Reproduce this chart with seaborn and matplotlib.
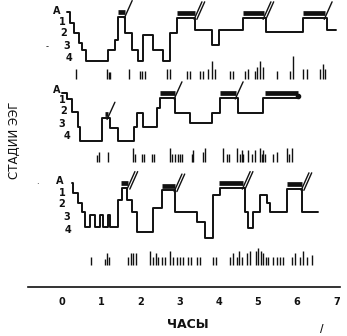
import numpy as np
import matplotlib
matplotlib.use("Agg")
import matplotlib.pyplot as plt
import seaborn as sns

# ---------------- data ----------------
hours = [0, 1, 2, 3, 4, 5, 6, 7]
stage_names = ["A", "1", "2", "3", "4"]

# night 1 hypnogram (time in hours, stage level)
n1_t = [0.13, 0.20, 0.31, 0.43, 0.51, 0.61, 1.17, 1.35, 1.43, 1.61, 1.79, 1.94, 2.07,
        2.32, 2.58, 2.76, 2.93, 3.39, 3.83, 4.01, 4.62, 5.20, 6.15, 6.76, 6.99]
n1_s = [0, 0.9, 1.7, 2.5, 3.1, 4, 3.1, 2.3, 0.4, 1.7, 3.1, 4, 1.9,
        3.1, 4, 1.7, 0.5, 1.5, 2.7, 1.5, 0.5, 1.6, 0.5, 1.5, 1.5]
n1_rem_start = [1.43, 2.93, 4.62, 6.15]
n1_rem_end = [1.61, 3.39, 5.15, 6.71]
n1_rem_slashes = [1, 2, 2, 1]
n1_mov_t = [0.36, 1.15, 1.19, 1.22, 1.71, 1.99, 2.05, 2.12, 2.68, 2.76, 3.19, 3.27, 3.52,
            3.60, 3.72, 3.83, 3.90, 4.29, 4.36, 4.67, 4.74, 4.92, 4.97, 5.05, 5.13, 5.48,
            5.82, 5.89, 6.15, 6.25, 6.58, 6.65, 6.71]
n1_mov_h = [0.8, 0.8, 0.6, 0.6, 0.8, 0.65, 0.65, 0.65, 0.8, 0.8, 0.65, 0.65, 0.65,
            0.65, 0.8, 1.5, 0.8, 0.65, 0.65, 0.65, 0.8, 0.65, 1.0, 1.5, 1.0, 0.65,
            0.65, 1.9, 0.8, 0.8, 0.8, 1.2, 0.8]

# night 2
n2_t = [0.00, 0.13, 0.26, 0.41, 0.46, 1.02, 1.22, 1.43, 1.84, 1.91, 2.07, 2.42, 2.50,
        2.88, 3.27, 3.83, 4.03, 4.49, 5.13, 6.02]
n2_s = [0, 0.5, 1.6, 2.8, 4, 2.1, 2.9, 4, 2.8, 1.7, 2.8, 1.25, 0.4,
        1.7, 2.5, 1.7, 0.4, 1.7, 0.4, 0.4]
n2_rem_start = [1.10, 2.50, 4.03, 5.18]
n2_rem_end = [1.17, 2.88, 4.44, 6.02]
n2_rem_slashes = [1, 1, 1, 0]
n2_mov_t = [0.89, 0.94, 1.17, 1.81, 1.86, 2.04, 2.09, 2.30, 2.35, 2.76, 2.81, 2.88, 2.96,
            3.01, 3.06, 3.32, 3.34, 3.60, 3.65, 4.11, 4.21, 4.26, 4.46, 4.54, 4.59, 4.62,
            4.74, 4.85, 4.92, 5.05, 5.10, 5.13, 5.18, 5.38, 5.48, 5.74, 5.79, 5.87]
n2_mov_h = [0.6, 0.8, 0.8, 1.2, 0.7, 0.7, 0.7, 0.7, 0.7, 1.2, 0.7, 0.7, 0.7,
            0.7, 0.7, 0.7, 1.0, 0.8, 1.2, 1.2, 0.7, 0.7, 1.2, 0.7, 1.0, 0.7,
            1.0, 0.7, 1.0, 1.2, 0.7, 1.0, 0.7, 0.7, 0.8, 1.2, 0.7, 1.2]

# night 3
n3_t = [0.26, 0.28, 0.41, 0.51, 0.59, 0.71, 0.84, 0.97, 1.05, 1.17, 1.22, 1.43, 1.53,
        1.66, 1.79, 1.91, 2.32, 2.55, 2.88, 3.44, 3.65, 3.85, 4.03, 4.67, 4.74, 4.87,
        5.05, 5.23, 5.31, 5.74, 6.12, 6.53]
n3_s = [0, 0.8, 1.6, 2.4, 3.6, 2.6, 3.6, 2.6, 3.6, 2.6, 3.6, 1.4, 0.4,
        1.4, 2.4, 4, 2.0, 0.6, 2.4, 3.2, 4.5, 1.0, 0.4, 2.4, 3.7, 2.4,
        1.0, 1.6, 2.4, 0.5, 2.4, 2.4]
n3_rem_start = [1.51, 2.55, 4.00, 5.74]
n3_rem_end = [1.68, 2.88, 4.62, 6.12]
n3_rem_slashes = [2, 2, 2, 2]
n3_mov_t = [0.74, 1.10, 1.15, 1.20, 1.68, 1.76, 1.81, 1.89, 2.24, 2.32, 2.40, 2.45, 2.55,
            2.63, 2.76, 2.83, 2.93, 3.01, 3.09, 3.21, 3.29, 3.44, 3.52, 3.85, 3.93, 4.29,
            4.36, 4.46, 4.52, 4.59, 4.72, 4.80, 4.95, 5.00, 5.08, 5.13, 5.20, 5.26, 5.38,
            5.48, 5.56, 5.64, 5.87, 5.94, 6.07, 6.15, 6.25, 6.38]
n3_mov_h = [0.65, 0.5, 1.0, 0.65, 0.65, 1.0, 1.0, 1.0, 1.15, 0.65, 1.0, 0.65, 0.65,
            0.65, 1.15, 0.65, 0.65, 0.65, 0.65, 0.65, 0.65, 0.65, 0.65, 0.65, 0.65, 0.65,
            1.0, 0.65, 1.15, 0.65, 1.0, 1.15, 1.15, 1.4, 1.15, 1.0, 0.65, 0.65, 0.65,
            0.65, 0.65, 0.65, 0.65, 1.0, 0.65, 1.15, 0.65, 0.8]

x_label = "ЧАСЫ"
y_label = "СТАДИИ ЭЭГ"

# ---------------- style / layout ----------------
sns.set_style("white")
plt.rcParams["font.family"] = ["DejaVu Sans"]

W, H = 347, 336
fig = plt.figure(figsize=(W / 100, H / 100), dpi=100)
X0, X1 = 28, 340
PX_PER_H, PX_ZERO = 39.2, 62
XLIM = ((X0 - PX_ZERO) / PX_PER_H, (X1 - PX_ZERO) / PX_PER_H)

INK = "#111111"


def add_panel(top_px, bot_px, a_px, sp):
    ax = fig.add_axes([X0 / W, 1 - bot_px / H, (X1 - X0) / W, (bot_px - top_px) / H])
    ax.set_xlim(*XLIM)
    ax.set_ylim((bot_px - a_px) / sp, (top_px - a_px) / sp)
    ax.axis("off")
    ax.patch.set_alpha(0)
    return ax


def draw_night(ax, t, s, rs, re, nsl, mt, mh, base, label_pos):
    sns.lineplot(x=t, y=s, drawstyle="steps-post", estimator=None, sort=False,
                 color=INK, lw=1.4, ax=ax, legend=False)
    t_arr = np.asarray(t)
    for a, b, k in zip(rs, re, nsl):
        idx = np.searchsorted(t_arr, (a + b) / 2, side="right") - 1
        lvl = s[idx]
        bar_y = lvl - 0.38
        ax.plot([a, b], [bar_y, bar_y], color=INK, lw=3.4, solid_capstyle="butt")
        if k == 0:
            ax.plot([b], [bar_y + 0.25], "o", color=INK, ms=3)
        for j in range(k):
            x0 = b - 0.02 + j * 0.07
            ax.plot([x0, x0 + 0.2], [lvl + 0.1, bar_y - 0.95], color=INK, lw=1.0,
                    clip_on=False)
    ax.vlines(mt, [base - h for h in mh], base, color=INK, lw=1.0)
    for name, (xh, ys) in zip(stage_names, label_pos):
        ax.text(xh, ys, name, ha="center", va="center", fontsize=7,
                fontweight="bold", color=INK)


ax1 = add_panel(0, 88, 12, 12.25)
draw_night(ax1, n1_t, n1_s, n1_rem_start, n1_rem_end, n1_rem_slashes,
           n1_mov_t, n1_mov_h, 5.47,
           [(-0.13, -0.1), (0.0, 0.8), (0.03, 1.7), (0.13, 2.8), (0.18, 3.75)])

ax2 = add_panel(84, 172, 93, 12.0)
draw_night(ax2, n2_t, n2_s, n2_rem_start, n2_rem_end, n2_rem_slashes,
           n2_mov_t, n2_mov_h, 5.75,
           [(-0.13, -0.25), (0.0, 0.6), (0.03, 1.5), (0.0, 2.6), (0.13, 3.6)])

ax3 = add_panel(172, 282, 183, 12.25)
draw_night(ax3, n3_t, n3_s, n3_rem_start, n3_rem_end, n3_rem_slashes,
           n3_mov_t, n3_mov_h, 6.7,
           [(-0.05, -0.15), (0.0, 0.8), (0.0, 1.7), (0.13, 2.8), (0.15, 3.85)])

# time axis
axb = fig.add_axes([X0 / W, 1 - 287 / H, (X1 - X0) / W, 0.001])
axb.set_xlim(*XLIM)
axb.set_xticks(hours)
axb.set_xticklabels([str(h) for h in hours])
axb.set_yticks([])
for sname in ["left", "right", "top"]:
    axb.spines[sname].set_visible(False)
axb.spines["bottom"].set_linewidth(1.2)
axb.spines["bottom"].set_color(INK)
axb.tick_params(axis="x", direction="out", length=3, width=1, pad=4,
                labelsize=7, colors=INK)
for lbl in axb.get_xticklabels():
    lbl.set_fontweight("bold")
axb.patch.set_alpha(0)

fig.text(188 / W, 1 - 325 / H, x_label, ha="center", va="center",
         fontsize=9, fontweight="bold", color=INK)
fig.text(14 / W, 1 - 140 / H, y_label, rotation=90, ha="center", va="center",
         fontsize=8.5, color=INK)

# small print specks seen in the scanned original
fig.text(47 / W, 1 - 47 / H, "-", ha="center", va="center", fontsize=6, color=INK)
fig.text(37 / W, 1 - 182 / H, ".", ha="center", va="center", fontsize=6, color=INK)
fig.text(322 / W, 1 - 329 / H, "/", ha="center", va="center", fontsize=7,
         fontweight="bold", color=INK)

fig.savefig("out.png", dpi=100)
